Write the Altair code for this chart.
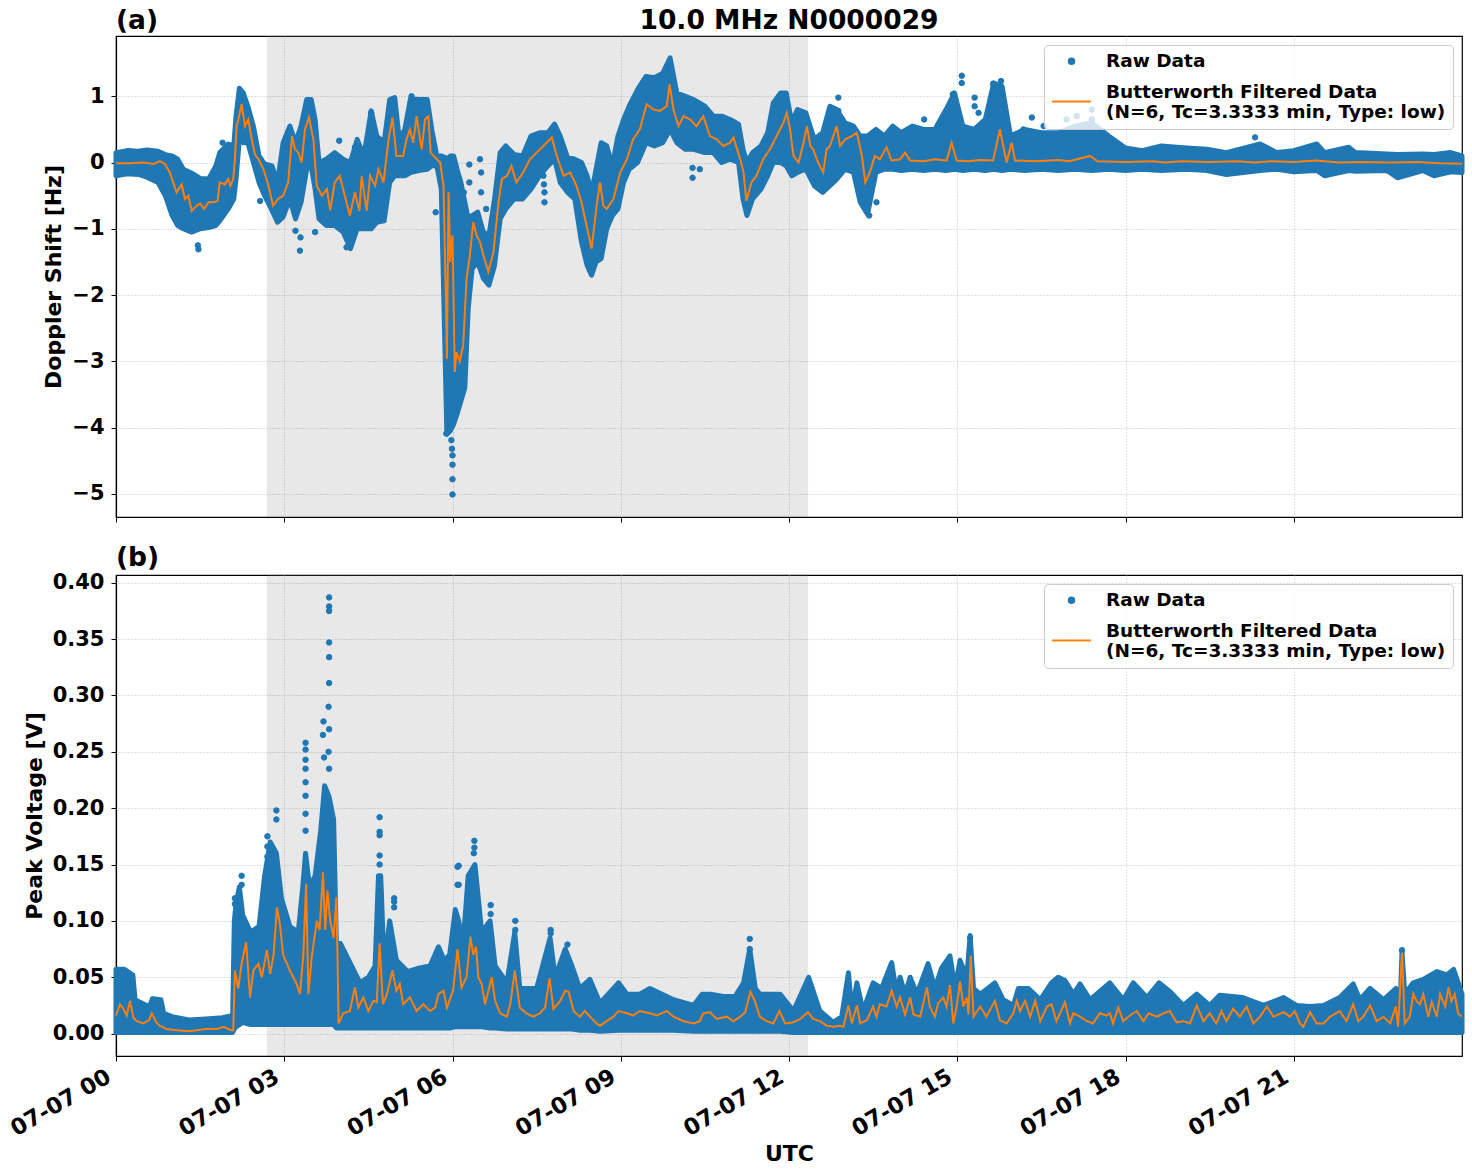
import json

import altair as alt
import pandas as pd

BLUE = "#1f77b4"
ORANGE = "#ff7f0e"
FONT = "DejaVu Sans"

TICK_HOURS = [0, 3, 6, 9, 12, 15, 18, 21]
TICK_LABELS = ["07-07 00", "07-07 03", "07-07 06", "07-07 09",
               "07-07 12", "07-07 15", "07-07 18", "07-07 21"]
SHADE_START, SHADE_END = 2.69, 12.34

SERIES = ["raw", "filt"]
RAW_LABEL = "Raw Data"
FILT_LABEL = ["Butterworth Filtered Data", "(N=6, Tc=3.3333 min, Type: low)"]
MAIN_TITLE = "10.0 MHz N0000029"

# ---------------- (a) Doppler shift [Hz] ----------------
# raw-data cloud: (hour, lower edge, upper edge)
DOP_ENVELOPE = [
    (0.00, -0.20, 0.15), (0.20, -0.17, 0.18), (0.40, -0.18, 0.17), (0.55, -0.22, 0.19),
    (0.75, -0.30, 0.17), (0.88, -0.50, 0.12), (1.00, -0.80, 0.10), (1.10, -0.95, 0.05),
    (1.20, -1.00, -0.10), (1.35, -1.05, -0.16), (1.50, -1.00, -0.24), (1.65, -0.98, -0.25),
    (1.78, -0.95, -0.05), (1.85, -0.88, 0.15), (2.00, -0.70, 0.28), (2.10, -0.55, 0.25),
    (2.14, -0.25, 0.70), (2.20, 0.35, 1.12), (2.27, 0.30, 1.05), (2.35, 0.30, 0.85),
    (2.45, 0.00, 0.55), (2.55, -0.30, 0.10), (2.65, -0.50, -0.02), (2.78, -0.72, -0.05),
    (2.88, -0.90, -0.30), (2.98, -0.82, 0.30), (3.10, -0.55, 0.55), (3.20, -0.85, 0.30),
    (3.30, -0.60, 0.55), (3.40, -0.10, 0.95), (3.48, -0.05, 0.95), (3.55, -0.40, 0.65),
    (3.62, -0.85, 0.00), (3.75, -0.95, 0.05), (3.90, -0.95, 0.15), (4.05, -1.05, 0.05),
    (4.18, -1.30, 0.00), (4.30, -1.00, 0.35), (4.42, -1.00, 0.10), (4.55, -1.00, 0.78),
    (4.65, -0.90, 0.40), (4.78, -0.88, 0.30), (4.88, -0.30, 0.95), (4.97, -0.20, 0.98),
    (5.05, -0.20, 0.35), (5.15, -0.20, 0.50), (5.25, -0.15, 0.96), (5.40, -0.12, 0.95),
    (5.55, -0.10, 0.95), (5.63, -0.05, 0.50), (5.72, -0.05, 0.10), (5.80, -0.40, 0.10),
    (5.86, -2.60, 0.08), (5.90, -4.10, 0.05), (5.96, -4.05, 0.10), (6.02, -3.95, 0.10),
    (6.08, -3.80, -0.10), (6.15, -3.60, -0.30), (6.22, -3.40, -0.60), (6.28, -2.20, -0.85),
    (6.35, -1.60, -0.80), (6.45, -1.50, -0.75), (6.55, -1.75, -1.05), (6.65, -1.85, -1.10),
    (6.75, -1.55, -0.55), (6.85, -0.85, 0.15), (6.95, -0.70, 0.25), (7.10, -0.55, 0.12),
    (7.25, -0.55, 0.10), (7.40, -0.40, 0.40), (7.55, -0.20, 0.45), (7.70, -0.05, 0.45),
    (7.82, 0.05, 0.58), (7.92, -0.30, 0.40), (8.05, -0.45, 0.08), (8.18, -0.55, 0.05),
    (8.30, -1.20, 0.00), (8.40, -1.55, -0.20), (8.48, -1.70, -0.45), (8.56, -1.50, -0.10),
    (8.65, -1.45, 0.30), (8.75, -1.00, 0.25), (8.85, -0.80, -0.05), (8.95, -0.70, 0.40),
    (9.05, -0.30, 0.65), (9.15, -0.10, 0.85), (9.30, 0.00, 1.10), (9.45, 0.30, 1.30),
    (9.60, 0.25, 1.28), (9.75, 0.30, 1.35), (9.88, 0.50, 1.58), (10.00, 0.30, 1.05),
    (10.15, 0.20, 1.00), (10.30, 0.20, 0.95), (10.50, 0.15, 0.85), (10.65, 0.15, 0.70),
    (10.80, 0.00, 0.70), (10.95, 0.05, 0.65), (11.10, 0.00, 0.58), (11.18, -0.55, 0.20),
    (11.25, -0.80, 0.00), (11.35, -0.55, 0.15), (11.50, -0.40, 0.25), (11.62, -0.20, 0.45),
    (11.72, 0.00, 0.90), (11.85, 0.00, 1.05), (11.95, -0.05, 1.05), (12.05, -0.20, 0.60),
    (12.15, -0.15, 0.80), (12.30, -0.10, 0.75), (12.45, -0.35, 0.35), (12.60, -0.45, 0.45),
    (12.73, -0.35, 0.85), (12.85, -0.25, 0.80), (13.00, -0.10, 0.60), (13.15, -0.15, 0.55),
    (13.27, -0.60, 0.40), (13.40, -0.78, 0.40), (13.55, -0.15, 0.50), (13.70, -0.10, 0.40),
    (13.85, -0.10, 0.55), (14.00, -0.12, 0.45), (14.20, -0.10, 0.55), (14.40, -0.12, 0.50),
    (14.60, -0.10, 0.50), (14.80, -0.12, 0.80), (14.95, -0.10, 1.05), (15.10, -0.12, 0.55),
    (15.30, -0.10, 0.50), (15.50, -0.12, 0.65), (15.65, -0.10, 1.20), (15.80, -0.12, 1.15),
    (15.95, -0.10, 0.40), (16.20, -0.12, 0.50), (16.50, -0.10, 0.45), (16.80, -0.12, 0.45),
    (17.10, -0.10, 0.55), (17.40, -0.12, 0.60), (17.70, -0.10, 0.40), (18.00, -0.12, 0.22),
    (18.30, -0.10, 0.18), (18.64, -0.12, 0.25), (19.09, -0.10, 0.22), (19.45, -0.12, 0.20),
    (19.80, -0.18, 0.15), (20.40, -0.12, 0.28), (20.70, -0.10, 0.15), (21.00, -0.14, 0.18),
    (21.41, -0.12, 0.28), (21.55, -0.20, 0.15), (21.98, -0.12, 0.23), (22.10, -0.13, 0.15),
    (22.66, -0.12, 0.13), (22.85, -0.23, 0.12), (23.30, -0.12, 0.13), (23.50, -0.20, 0.12),
    (23.80, -0.14, 0.15), (24.00, -0.15, 0.10),
]

# isolated raw samples: (hour, value)
DOP_SCATTER = [
    (5.89, -4.09), (5.98, -4.19), (5.99, -4.32), (6.00, -4.42), (6.00, -4.56),
    (6.00, -4.78), (6.00, -5.01), (1.47, -1.31), (1.46, -1.25), (1.90, 0.30),
    (2.57, -0.58), (2.88, -0.25), (3.28, -1.33), (3.29, -1.13), (3.20, -1.03),
    (3.55, -1.05), (3.98, 0.33), (4.11, -1.28), (4.26, 0.23), (4.55, 0.75),
    (5.27, 1.00), (5.29, 0.90), (5.70, -0.75), (6.20, -0.45), (6.20, -0.64),
    (6.25, -1.00), (6.27, -0.95), (6.30, -0.03), (6.30, -0.30), (6.49, 0.05),
    (6.51, -0.15), (6.51, -0.45), (6.60, -0.70), (7.62, -0.20), (7.63, -0.33),
    (7.64, -0.45), (7.64, -0.60), (10.28, -0.08), (10.28, -0.23), (10.41, -0.10),
    (12.88, 0.98), (12.88, 0.78), (13.43, -0.80), (13.56, -0.60), (14.41, 0.65),
    (14.92, 1.03), (15.08, 1.31), (15.08, 1.20), (15.31, 0.98), (15.31, 0.85),
    (15.38, 0.75), (15.64, 1.19), (15.64, 1.00), (15.78, 1.23), (16.18, 0.50),
    (16.33, 0.68), (16.54, 0.55), (16.95, 0.65), (17.13, 0.70), (17.40, 0.80),
    (17.40, 0.65), (20.31, 0.38),
]

# low-pass filtered curve: (hour, value)
DOP_FILTERED = [
    (0.00, -0.01), (0.25, -0.01), (0.49, 0.00), (0.67, -0.02), (0.78, 0.02), (0.87, -0.02),
    (0.96, -0.15), (1.02, -0.30), (1.08, -0.45), (1.17, -0.33), (1.23, -0.55), (1.29, -0.50),
    (1.35, -0.73), (1.44, -0.65), (1.50, -0.62), (1.57, -0.70), (1.65, -0.60), (1.74, -0.60),
    (1.81, -0.58), (1.85, -0.30), (1.94, -0.33), (2.00, -0.25), (2.04, -0.35), (2.09, -0.25),
    (2.12, 0.05), (2.15, 0.55), (2.19, 0.68), (2.24, 0.88), (2.30, 0.55), (2.36, 0.65),
    (2.42, 0.35), (2.48, 0.12), (2.54, 0.05), (2.63, -0.10), (2.72, -0.35), (2.80, -0.65),
    (2.89, -0.55), (2.98, -0.50), (3.07, -0.30), (3.14, 0.40), (3.19, 0.20), (3.25, 0.15),
    (3.31, 0.00), (3.37, 0.50), (3.44, 0.68), (3.52, 0.35), (3.58, -0.35), (3.67, -0.50),
    (3.76, -0.40), (3.82, -0.72), (3.90, -0.30), (3.99, -0.20), (4.08, -0.50), (4.17, -0.80),
    (4.26, -0.45), (4.34, -0.73), (4.38, -0.20), (4.47, -0.73), (4.53, -0.20), (4.62, -0.35),
    (4.68, -0.10), (4.77, -0.30), (4.86, 0.35), (4.93, 0.68), (5.00, 0.10), (5.12, 0.10),
    (5.18, 0.35), (5.24, 0.50), (5.30, 0.30), (5.36, 0.70), (5.45, 0.20), (5.51, 0.65),
    (5.57, 0.70), (5.61, 0.15), (5.72, 0.05), (5.78, 0.00), (5.84, -0.35), (5.88, -2.00),
    (5.90, -2.96), (5.93, -0.45), (5.96, -1.50), (6.00, -1.10), (6.04, -3.16), (6.07, -2.86),
    (6.13, -3.00), (6.19, -2.76), (6.25, -1.76), (6.31, -1.40), (6.37, -0.90), (6.43, -1.10),
    (6.49, -1.20), (6.55, -1.40), (6.64, -1.65), (6.73, -1.35), (6.82, -0.60), (6.88, -0.25),
    (6.97, -0.20), (7.05, -0.05), (7.14, -0.30), (7.26, -0.15), (7.38, 0.05), (7.50, 0.15),
    (7.62, 0.25), (7.77, 0.38), (7.86, 0.10), (7.98, -0.20), (8.10, -0.15), (8.21, -0.35),
    (8.30, -0.60), (8.39, -0.95), (8.48, -1.30), (8.57, -0.65), (8.63, -0.30), (8.69, -0.65),
    (8.75, -0.70), (8.87, -0.55), (8.99, -0.15), (9.11, 0.05), (9.22, 0.35), (9.34, 0.50),
    (9.46, 0.88), (9.58, 0.80), (9.70, 0.78), (9.82, 0.85), (9.87, 1.18), (9.94, 0.80),
    (10.03, 0.55), (10.12, 0.70), (10.24, 0.65), (10.35, 0.55), (10.47, 0.70), (10.59, 0.40),
    (10.71, 0.35), (10.83, 0.25), (10.95, 0.30), (11.01, 0.38), (11.13, 0.05), (11.19, -0.15),
    (11.24, -0.58), (11.33, -0.30), (11.42, -0.20), (11.54, 0.05), (11.66, 0.20), (11.78, 0.40),
    (11.90, 0.60), (11.96, 0.75), (12.02, 0.50), (12.08, 0.10), (12.17, 0.00), (12.26, 0.30),
    (12.32, 0.55), (12.38, 0.25), (12.43, 0.20), (12.52, 0.00), (12.61, -0.15), (12.67, 0.20),
    (12.73, 0.25), (12.79, 0.40), (12.85, 0.55), (12.91, 0.25), (13.00, 0.35), (13.12, 0.40),
    (13.21, 0.45), (13.30, 0.10), (13.36, -0.30), (13.44, -0.15), (13.53, 0.10), (13.62, 0.05),
    (13.74, 0.23), (13.83, 0.03), (13.98, 0.05), (14.07, 0.15), (14.16, 0.03), (14.40, 0.02),
    (14.60, 0.05), (14.81, 0.03), (14.90, 0.30), (14.99, 0.03), (15.20, 0.02), (15.40, 0.04),
    (15.64, 0.03), (15.76, 0.50), (15.88, 0.00), (15.97, 0.30), (16.03, 0.03), (16.40, 0.02),
    (16.80, 0.04), (17.00, 0.02), (17.37, 0.10), (17.50, 0.02), (18.00, 0.01), (18.50, 0.02),
    (18.70, 0.00), (19.00, 0.02), (19.50, 0.01), (20.00, 0.02), (20.30, 0.00), (20.60, 0.02),
    (21.00, 0.01), (21.40, 0.03), (21.80, 0.00), (22.20, 0.01), (22.70, 0.00), (23.20, 0.01),
    (23.60, -0.01), (24.00, -0.02),
]

# ---------------- (b) Peak voltage [V] ----------------
VOLT_ENVELOPE = [
    (0.00, 0.001, 0.057), (0.15, 0.001, 0.057), (0.30, 0.001, 0.052), (0.34, 0.001, 0.030),
    (0.50, 0.001, 0.026), (0.60, 0.001, 0.024), (0.65, 0.001, 0.031), (0.80, 0.001, 0.030),
    (0.85, 0.001, 0.018), (1.00, 0.001, 0.015), (1.30, 0.001, 0.012), (1.60, 0.001, 0.013),
    (1.90, 0.001, 0.014), (2.08, 0.001, 0.016), (2.11, 0.004, 0.100), (2.14, 0.006, 0.115),
    (2.20, 0.008, 0.130), (2.26, 0.010, 0.105), (2.40, 0.008, 0.090), (2.55, 0.008, 0.095),
    (2.65, 0.008, 0.140), (2.75, 0.008, 0.170), (2.86, 0.008, 0.160), (2.95, 0.008, 0.120),
    (3.10, 0.008, 0.095), (3.25, 0.008, 0.090), (3.33, 0.008, 0.130), (3.38, 0.008, 0.160),
    (3.45, 0.008, 0.130), (3.55, 0.008, 0.140), (3.65, 0.008, 0.180), (3.72, 0.008, 0.220),
    (3.80, 0.008, 0.210), (3.88, 0.008, 0.190), (3.93, 0.005, 0.080), (4.00, 0.005, 0.080),
    (4.20, 0.005, 0.060), (4.35, 0.005, 0.045), (4.50, 0.005, 0.050), (4.62, 0.005, 0.060),
    (4.68, 0.005, 0.140), (4.72, 0.005, 0.140), (4.78, 0.005, 0.060), (4.88, 0.005, 0.100),
    (5.00, 0.005, 0.065), (5.20, 0.005, 0.055), (5.40, 0.005, 0.058), (5.60, 0.005, 0.060),
    (5.75, 0.005, 0.077), (5.85, 0.005, 0.065), (5.95, 0.005, 0.070), (6.05, 0.006, 0.110),
    (6.11, 0.006, 0.100), (6.19, 0.006, 0.080), (6.28, 0.006, 0.140), (6.40, 0.006, 0.150),
    (6.46, 0.006, 0.120), (6.52, 0.006, 0.090), (6.67, 0.005, 0.100), (6.76, 0.005, 0.060),
    (6.97, 0.004, 0.045), (7.11, 0.004, 0.090), (7.20, 0.004, 0.040), (7.50, 0.004, 0.040),
    (7.74, 0.004, 0.085), (7.83, 0.004, 0.050), (8.01, 0.004, 0.075), (8.13, 0.004, 0.060),
    (8.27, 0.003, 0.040), (8.45, 0.003, 0.048), (8.63, 0.002, 0.027), (8.96, 0.003, 0.045),
    (9.11, 0.003, 0.035), (9.34, 0.003, 0.035), (9.52, 0.003, 0.040), (9.94, 0.003, 0.030),
    (10.30, 0.002, 0.025), (10.45, 0.002, 0.035), (10.60, 0.002, 0.035), (10.83, 0.002, 0.033),
    (11.04, 0.002, 0.033), (11.19, 0.002, 0.045), (11.30, 0.002, 0.075), (11.40, 0.002, 0.040),
    (11.48, 0.002, 0.035), (11.84, 0.002, 0.035), (12.08, 0.001, 0.020), (12.35, 0.001, 0.050),
    (12.55, 0.001, 0.020), (12.79, 0.001, 0.010), (12.94, 0.001, 0.015), (13.06, 0.001, 0.054),
    (13.12, 0.001, 0.020), (13.21, 0.001, 0.045), (13.32, 0.001, 0.020), (13.50, 0.001, 0.045),
    (13.65, 0.001, 0.040), (13.83, 0.001, 0.063), (13.92, 0.001, 0.035), (13.98, 0.001, 0.050),
    (14.07, 0.001, 0.035), (14.16, 0.001, 0.050), (14.28, 0.001, 0.035), (14.48, 0.001, 0.062),
    (14.60, 0.001, 0.040), (14.72, 0.001, 0.058), (14.87, 0.001, 0.069), (14.96, 0.001, 0.040),
    (15.05, 0.001, 0.065), (15.17, 0.001, 0.050), (15.23, 0.001, 0.087), (15.29, 0.001, 0.040),
    (15.41, 0.001, 0.035), (15.67, 0.001, 0.045), (15.82, 0.001, 0.030), (16.00, 0.001, 0.025),
    (16.09, 0.001, 0.040), (16.27, 0.001, 0.040), (16.48, 0.001, 0.030), (16.68, 0.001, 0.045),
    (16.80, 0.001, 0.050), (16.92, 0.001, 0.047), (17.07, 0.001, 0.035), (17.19, 0.001, 0.044),
    (17.37, 0.001, 0.030), (17.72, 0.001, 0.045), (17.96, 0.001, 0.030), (18.14, 0.001, 0.045),
    (18.38, 0.001, 0.032), (18.60, 0.001, 0.045), (18.80, 0.001, 0.037), (19.03, 0.001, 0.025),
    (19.27, 0.001, 0.035), (19.50, 0.001, 0.025), (19.68, 0.001, 0.034), (20.09, 0.001, 0.032),
    (20.46, 0.001, 0.025), (20.82, 0.001, 0.032), (21.05, 0.001, 0.025), (21.29, 0.001, 0.024),
    (21.53, 0.001, 0.025), (21.82, 0.001, 0.032), (22.06, 0.001, 0.044), (22.18, 0.001, 0.030),
    (22.36, 0.001, 0.040), (22.60, 0.001, 0.030), (22.82, 0.001, 0.040), (22.90, 0.001, 0.030),
    (22.93, 0.001, 0.072), (22.98, 0.001, 0.035), (23.13, 0.001, 0.045), (23.31, 0.001, 0.048),
    (23.55, 0.001, 0.055), (23.73, 0.001, 0.052), (23.85, 0.001, 0.057), (24.00, 0.001, 0.035),
]

VOLT_SCATTER = [
    (3.80, 0.387), (3.80, 0.379), (3.80, 0.375), (3.80, 0.347), (3.80, 0.334), (3.80, 0.311),
    (3.79, 0.290), (3.80, 0.270), (3.79, 0.250), (3.80, 0.235), (3.38, 0.258), (3.38, 0.252),
    (3.38, 0.243), (3.38, 0.235), (3.38, 0.223), (3.38, 0.211), (3.38, 0.195), (3.38, 0.180),
    (3.70, 0.277), (3.69, 0.265), (3.71, 0.245), (4.70, 0.192), (4.70, 0.179), (4.70, 0.176),
    (4.70, 0.158), (4.70, 0.150), (4.96, 0.120), (4.96, 0.117), (4.96, 0.112), (2.24, 0.140),
    (2.24, 0.132), (2.12, 0.120), (2.12, 0.115), (2.86, 0.198), (2.86, 0.190), (2.70, 0.175),
    (2.70, 0.166), (2.70, 0.157), (6.09, 0.148), (6.09, 0.132), (6.11, 0.149), (6.11, 0.132),
    (6.39, 0.171), (6.39, 0.165), (6.38, 0.160), (6.68, 0.114), (6.68, 0.106), (7.12, 0.100),
    (7.12, 0.092), (7.75, 0.092), (7.75, 0.089), (8.05, 0.079), (11.30, 0.084), (11.30, 0.075),
    (15.23, 0.085), (22.93, 0.074),
]

VOLT_FILTERED = [
    (0.00, 0.016), (0.07, 0.026), (0.13, 0.022), (0.19, 0.016), (0.25, 0.029), (0.31, 0.014),
    (0.37, 0.011), (0.43, 0.010), (0.49, 0.009), (0.59, 0.012), (0.64, 0.018), (0.72, 0.010),
    (0.78, 0.007), (0.90, 0.004), (1.08, 0.003), (1.30, 0.002), (1.60, 0.004), (1.80, 0.004),
    (1.92, 0.006), (2.05, 0.003), (2.09, 0.003), (2.12, 0.056), (2.18, 0.040), (2.24, 0.062),
    (2.32, 0.081), (2.39, 0.032), (2.45, 0.056), (2.54, 0.062), (2.60, 0.050), (2.69, 0.074),
    (2.75, 0.053), (2.81, 0.070), (2.87, 0.112), (2.92, 0.098), (2.98, 0.070), (3.10, 0.056),
    (3.22, 0.044), (3.28, 0.035), (3.34, 0.070), (3.39, 0.133), (3.43, 0.035), (3.49, 0.068),
    (3.58, 0.100), (3.63, 0.092), (3.69, 0.143), (3.73, 0.092), (3.77, 0.127), (3.82, 0.100),
    (3.88, 0.085), (3.93, 0.121), (3.97, 0.009), (4.05, 0.018), (4.17, 0.020), (4.26, 0.041),
    (4.32, 0.023), (4.41, 0.032), (4.50, 0.020), (4.59, 0.029), (4.65, 0.028), (4.70, 0.080),
    (4.76, 0.026), (4.83, 0.035), (4.93, 0.056), (5.00, 0.038), (5.06, 0.044), (5.12, 0.026),
    (5.24, 0.032), (5.36, 0.020), (5.48, 0.026), (5.60, 0.020), (5.69, 0.023), (5.75, 0.035),
    (5.84, 0.038), (5.90, 0.023), (6.01, 0.038), (6.09, 0.075), (6.16, 0.041), (6.25, 0.050),
    (6.32, 0.086), (6.37, 0.070), (6.42, 0.077), (6.46, 0.050), (6.52, 0.044), (6.58, 0.026),
    (6.70, 0.050), (6.76, 0.029), (6.85, 0.018), (6.97, 0.015), (7.03, 0.026), (7.11, 0.056),
    (7.20, 0.023), (7.32, 0.018), (7.44, 0.015), (7.56, 0.018), (7.65, 0.023), (7.73, 0.049),
    (7.80, 0.022), (7.92, 0.029), (8.01, 0.038), (8.07, 0.037), (8.16, 0.020), (8.27, 0.015),
    (8.36, 0.020), (8.45, 0.015), (8.57, 0.009), (8.63, 0.007), (8.75, 0.011), (8.87, 0.015),
    (8.96, 0.020), (9.11, 0.018), (9.22, 0.016), (9.34, 0.020), (9.52, 0.018), (9.64, 0.016),
    (9.82, 0.020), (9.94, 0.015), (10.12, 0.011), (10.30, 0.009), (10.41, 0.011), (10.47, 0.018),
    (10.59, 0.019), (10.71, 0.013), (10.89, 0.015), (11.01, 0.011), (11.13, 0.015), (11.22, 0.019),
    (11.31, 0.037), (11.39, 0.029), (11.48, 0.015), (11.60, 0.011), (11.72, 0.009), (11.83, 0.020),
    (11.93, 0.009), (12.08, 0.010), (12.20, 0.013), (12.34, 0.019), (12.43, 0.013), (12.55, 0.011),
    (12.67, 0.007), (12.79, 0.006), (12.91, 0.007), (12.97, 0.006), (13.06, 0.025), (13.12, 0.009),
    (13.21, 0.025), (13.27, 0.009), (13.39, 0.012), (13.50, 0.024), (13.56, 0.015), (13.62, 0.026),
    (13.74, 0.024), (13.83, 0.038), (13.92, 0.024), (13.98, 0.032), (14.07, 0.017), (14.16, 0.032),
    (14.22, 0.017), (14.34, 0.015), (14.46, 0.041), (14.51, 0.024), (14.60, 0.015), (14.66, 0.027),
    (14.75, 0.032), (14.81, 0.024), (14.87, 0.043), (14.93, 0.009), (14.99, 0.024), (15.05, 0.046),
    (15.11, 0.024), (15.17, 0.032), (15.20, 0.017), (15.24, 0.069), (15.29, 0.015), (15.41, 0.024),
    (15.52, 0.015), (15.67, 0.029), (15.76, 0.012), (15.88, 0.009), (16.00, 0.018), (16.06, 0.029),
    (16.12, 0.020), (16.21, 0.029), (16.30, 0.015), (16.39, 0.029), (16.48, 0.011), (16.60, 0.024),
    (16.68, 0.026), (16.77, 0.011), (16.92, 0.028), (17.01, 0.009), (17.07, 0.018), (17.19, 0.015),
    (17.31, 0.011), (17.42, 0.009), (17.54, 0.018), (17.66, 0.016), (17.72, 0.018), (17.78, 0.009),
    (17.87, 0.023), (17.96, 0.011), (18.05, 0.015), (18.14, 0.018), (18.20, 0.020), (18.32, 0.011),
    (18.41, 0.018), (18.56, 0.015), (18.68, 0.018), (18.79, 0.020), (18.91, 0.010), (19.03, 0.011),
    (19.15, 0.009), (19.27, 0.025), (19.39, 0.011), (19.50, 0.018), (19.62, 0.009), (19.71, 0.020),
    (19.80, 0.011), (19.92, 0.022), (20.04, 0.015), (20.16, 0.024), (20.28, 0.009), (20.40, 0.015),
    (20.52, 0.024), (20.64, 0.015), (20.82, 0.019), (20.93, 0.015), (21.02, 0.020), (21.11, 0.009),
    (21.17, 0.006), (21.29, 0.019), (21.41, 0.009), (21.53, 0.009), (21.65, 0.015), (21.82, 0.020),
    (21.94, 0.011), (22.06, 0.026), (22.15, 0.011), (22.24, 0.015), (22.36, 0.025), (22.48, 0.011),
    (22.60, 0.015), (22.72, 0.009), (22.82, 0.024), (22.86, 0.006), (22.93, 0.072), (22.98, 0.009),
    (23.07, 0.015), (23.13, 0.035), (23.19, 0.029), (23.25, 0.026), (23.31, 0.035), (23.40, 0.015),
    (23.46, 0.028), (23.55, 0.015), (23.61, 0.035), (23.70, 0.024), (23.76, 0.041), (23.81, 0.029),
    (23.87, 0.035), (23.93, 0.018), (23.99, 0.015),
]

PLOT_WIDTH = 1346
PLOT_HEIGHT = 481

tick_label_expr = json.dumps(TICK_LABELS) + "[round(datum.value / 3)]"
legend_label_expr = (
    "datum.value == 'raw' ? " + json.dumps(RAW_LABEL) + " : " + json.dumps(FILT_LABEL)
)
# legend key for the filtered curve: a horizontal stroke lowered to sit between
# the two lines of its label
FILT_KEY = "M -1 0.52 L 1 0.52"


def series_legend():
    return alt.Legend(
        title=None, orient="top-right", offset=9, padding=7,
        fillColor="rgba(255,255,255,0.8)", strokeColor="#cccccc", cornerRadius=4,
        labelFont=FONT, labelFontSize=18.5, labelFontWeight="bold", labelColor="black",
        labelLimit=1000, labelOffset=14, rowPadding=-5, symbolStrokeWidth=2,
        labelExpr=legend_label_expr,
    )


def panel(envelope, scatter, filtered, y_domain, y_ticks, y_format, y_title, bottom):
    env_df = pd.DataFrame(envelope, columns=["hour", "lo", "hi"])
    raw_df = pd.DataFrame(scatter, columns=["hour", "value"]).assign(series="raw")
    filt_df = pd.DataFrame(filtered, columns=["hour", "value"]).assign(series="filt")
    shade_df = pd.DataFrame({"start": [SHADE_START], "end": [SHADE_END]})

    if bottom:
        x_axis = alt.Axis(values=TICK_HOURS, labelExpr=tick_label_expr, labelAngle=330,
                          labelAlign="right", labelBaseline="top", labelOffset=-13,
                          labelPadding=4, labelFontSize=22.5, title="UTC", titlePadding=3)
    else:
        x_axis = alt.Axis(values=TICK_HOURS, labels=False, title=None)
    x_scale = alt.Scale(domain=[0, 24], nice=False, zero=False)
    y_scale = alt.Scale(domain=y_domain, nice=False, zero=False)
    y_axis = alt.Axis(values=y_ticks, format=y_format, title=y_title)

    def xenc(field):
        return alt.X(field, type="quantitative", scale=x_scale, axis=x_axis)

    def yenc(field):
        return alt.Y(field, type="quantitative", scale=y_scale, axis=y_axis)

    color_scale = alt.Scale(domain=SERIES, range=[BLUE, ORANGE])
    shape_scale = alt.Scale(domain=SERIES, range=["circle", FILT_KEY])
    size_scale = alt.Scale(domain=SERIES, range=[30, 1500])

    shade = alt.Chart(shade_df).mark_rect(color="#808080", opacity=0.18).encode(
        x=xenc("start"), x2="end"
    )
    cloud = alt.Chart(env_df).mark_area(
        color=BLUE, stroke=BLUE, strokeWidth=5, strokeJoin="round", opacity=1
    ).encode(x=xenc("hour"), y=yenc("hi"), y2="lo")
    points = alt.Chart(raw_df).mark_point(filled=True, opacity=1, strokeWidth=1).encode(
        x=xenc("hour"), y=yenc("value"),
        fill=alt.Fill("series:N", scale=color_scale, legend=series_legend()),
        stroke=alt.Stroke("series:N", scale=color_scale, legend=series_legend()),
        shape=alt.Shape("series:N", scale=shape_scale, legend=series_legend()),
        size=alt.Size("series:N", scale=size_scale, legend=series_legend()),
    )
    line = alt.Chart(filt_df).mark_line(strokeWidth=2).encode(
        x=xenc("hour"), y=yenc("value"),
        stroke=alt.Stroke("series:N", scale=color_scale, legend=series_legend()),
    )
    layers = [shade, cloud, points, line]
    props = dict(width=PLOT_WIDTH, height=PLOT_HEIGHT)
    if bottom:
        props["title"] = alt.TitleParams("(b)", anchor="start", frame="group", offset=0)
    else:
        heading = pd.DataFrame({"text": ["(a)", MAIN_TITLE]})
        tag = alt.Chart(heading.iloc[[0]]).mark_text(
            align="left", baseline="alphabetic", font=FONT, fontSize=26.5,
            fontWeight="bold", color="black"
        ).encode(text="text:N", x=alt.value(0), y=alt.value(-7))
        main = alt.Chart(heading.iloc[[1]]).mark_text(
            align="center", baseline="alphabetic", font=FONT, fontSize=26.5,
            fontWeight="bold", color="black"
        ).encode(text="text:N", x=alt.value(PLOT_WIDTH / 2), y=alt.value(-7))
        layers += [tag, main]
    return alt.layer(*layers).properties(**props)


top = panel(DOP_ENVELOPE, DOP_SCATTER, DOP_FILTERED, [-5.35, 1.91],
            [-5, -4, -3, -2, -1, 0, 1], "d", "Doppler Shift [Hz]", False)
bottom = panel(VOLT_ENVELOPE, VOLT_SCATTER, VOLT_FILTERED, [-0.0199, 0.4069],
               [0.0, 0.05, 0.1, 0.15, 0.2, 0.25, 0.3, 0.35, 0.4], ".2f",
               "Peak Voltage [V]", True)

chart = (
    alt.vconcat(top, bottom, spacing=20)
    .resolve_scale(fill="independent", stroke="independent", shape="independent",
                   size="independent")
    .resolve_legend(fill="independent", stroke="independent", shape="independent",
                    size="independent")
    .configure(font=FONT, padding={"left": 6, "top": 7, "right": 4, "bottom": 4})
    .configure_view(stroke="black", strokeWidth=1.2)
    .configure_axis(
        labelFont=FONT, labelFontSize=21, labelFontWeight="bold", labelColor="black",
        titleFont=FONT, titleFontSize=22, titleFontWeight="bold", titleColor="black",
        tickColor="black", tickSize=5, tickWidth=1, domainColor="black", domainWidth=1.2,
        grid=True, gridColor="#b0b0b0", gridDash=[1, 2], gridWidth=0.8,
        labelPadding=7, titlePadding=6,
    )
    .configure_title(font=FONT, fontSize=26.5, fontWeight="bold", color="black")
)

chart.save("out.html", embed_options={"renderer": "svg", "actions": False})
